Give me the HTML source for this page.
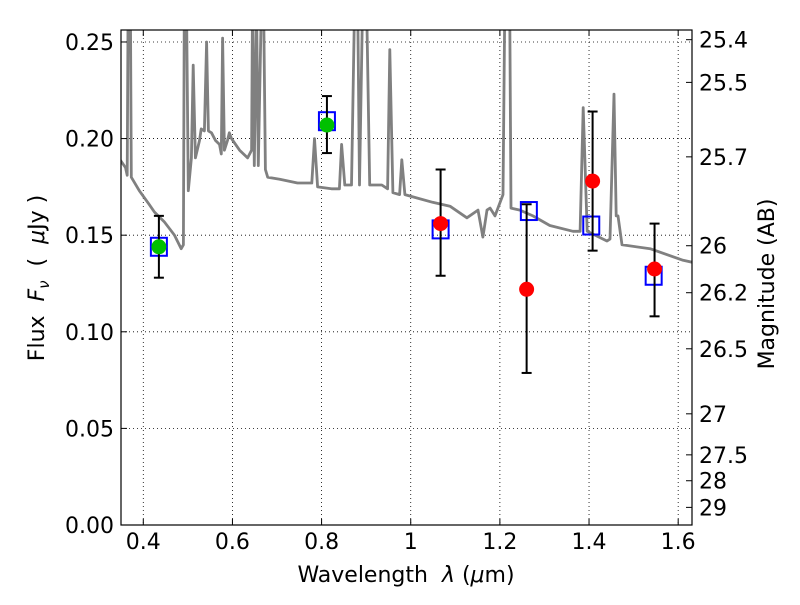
<!DOCTYPE html>
<html><head><meta charset="utf-8"><style>
body{margin:0;background:#fff;}
svg text{font-family:"DejaVu Sans","Liberation Sans",sans-serif;fill:#000;}
</style></head><body>
<svg id="chart" width="800" height="600">
<g id="grid"></g>
<g id="spec"></g>
<g id="marks"></g>
<rect x="121" y="30" width="571" height="495" fill="none" stroke="#000" stroke-width="1.2"/>
<g id="axes"></g>
<text x="406" y="582" font-size="22" text-anchor="middle">Wavelength&#160;&#160;<tspan font-style="italic">λ</tspan>&#160;(<tspan font-style="italic">μ</tspan>m)</text>
<text transform="translate(44,278) rotate(-90)" font-size="22" text-anchor="middle">Flux&#160;&#160;<tspan font-style="italic">F</tspan><tspan font-style="italic" font-size="15" dy="5">ν</tspan><tspan dy="-5">&#160;&#160;(&#160;&#160;</tspan><tspan font-style="italic">μ</tspan>Jy&#160;)</text>
<text transform="translate(774,284) rotate(-90)" font-size="22" text-anchor="middle">Magnitude (AB)</text>
</svg>
<script>
const specLam=[0.348,0.360,0.364,0.366,0.371,0.373,0.391,0.413,0.425,0.447,0.470,0.485,0.490,0.492,0.497,0.501,0.508,0.512,0.517,0.526,0.530,0.537,0.542,0.546,0.553,0.562,0.571,0.575,0.578,0.582,0.589,0.593,0.598,0.616,0.634,0.643,0.645,0.649,0.654,0.658,0.665,0.670,0.674,0.679,0.706,0.746,0.778,0.784,0.791,0.822,0.840,0.845,0.852,0.867,0.874,0.881,0.885,0.892,0.901,0.908,0.935,0.948,0.953,0.960,0.975,0.980,0.987,1.002,1.049,1.088,1.126,1.151,1.162,1.171,1.178,1.189,1.207,1.211,1.222,1.225,1.245,1.274,1.312,1.364,1.380,1.387,1.396,1.440,1.447,1.456,1.461,1.465,1.474,1.537,1.611,1.631];
const specFlux=[0.189,0.185,0.181,0.27,0.27,0.180,0.173,0.166,0.162,0.157,0.150,0.143,0.145,0.27,0.27,0.173,0.190,0.238,0.190,0.199,0.205,0.204,0.250,0.204,0.203,0.199,0.197,0.192,0.252,0.194,0.199,0.203,0.200,0.194,0.190,0.194,0.27,0.186,0.27,0.186,0.27,0.27,0.184,0.180,0.179,0.177,0.177,0.200,0.175,0.174,0.174,0.197,0.176,0.176,0.27,0.27,0.176,0.27,0.27,0.176,0.176,0.174,0.246,0.172,0.171,0.189,0.171,0.170,0.167,0.165,0.159,0.163,0.149,0.163,0.164,0.160,0.171,0.27,0.27,0.164,0.163,0.160,0.155,0.152,0.152,0.216,0.152,0.147,0.148,0.223,0.160,0.160,0.145,0.143,0.137,0.136];
const photLam=[0.435,0.812,1.067,1.26,1.408,1.547];
const photFlux=[0.144,0.207,0.156,0.122,0.178,0.1325];
const errHi=[0.160,0.222,0.184,0.166,0.214,0.156];
const errLo=[0.128,0.1925,0.129,0.0787,0.142,0.108];
const photColor=['#00c000','#00c000','red','red','red','red'];
const modelLam=[0.435,0.812,1.067,1.265,1.405,1.545];
const modelFlux=[0.144,0.209,0.153,0.1625,0.155,0.129];
const xTicks=[0.4,0.6,0.8,1.0,1.2,1.4,1.6];
const xTickLabels=['0.4','0.6','0.8','1','1.2','1.4','1.6'];
const yTicks=[0,0.05,0.10,0.15,0.20,0.25];
const yTickLabels=['0.00','0.05','0.10','0.15','0.20','0.25'];
const magTicks=[25.4,25.5,25.7,26,26.2,26.5,27,27.5,28,29];

const NS='http://www.w3.org/2000/svg';
const X0=121,X1=692,Y0=525,Y1=30,XMIN=0.35,XMAX=1.631,YMIN=0,YMAX=0.2562;
const xs=v=>X0+(v-XMIN)/(XMAX-XMIN)*(X1-X0);
const ys=v=>Y0-(v-YMIN)/(YMAX-YMIN)*(Y0-Y1);
function mk(tag,attrs,parent){const e=document.createElementNS(NS,tag);for(const k in attrs)e.setAttribute(k,attrs[k]);parent.appendChild(e);return e;}
const grid=document.getElementById('grid'),axes=document.getElementById('axes'),spec=document.getElementById('spec'),marks=document.getElementById('marks');
xTicks.forEach((t,i)=>{const x=xs(t);
 const g=mk('line',{x1:x,x2:x,y1:Y1,y2:Y0,stroke:'#000','stroke-width':0.8,'stroke-dasharray':'1,3'},grid);
 
 
 mk('line',{x1:x,x2:x,y1:Y0,y2:Y0-6,stroke:'#000'},axes);
 mk('line',{x1:x,x2:x,y1:Y1,y2:Y1+6,stroke:'#000'},axes);
 const tx=mk('text',{x:x,y:Y0+24,'font-size':22,'text-anchor':'middle'},axes);tx.textContent=xTickLabels[i];
 
 
});
yTicks.forEach((t,i)=>{const y=ys(t);
 const g=mk('line',{x1:X0,x2:X1,y1:y,y2:y,stroke:'#000','stroke-width':0.8,'stroke-dasharray':'1,3'},grid);
 
 
 mk('line',{x1:X0,x2:X0+6,y1:y,y2:y,stroke:'#000'},axes);
 const tx=mk('text',{x:X0-7,y:y+8,'font-size':22,'text-anchor':'end'},axes);tx.textContent=yTickLabels[i];
 
 
});
magTicks.forEach(m=>{const f=Math.pow(10,(23.9-m)/2.5);const y=ys(f);
 mk('line',{x1:X1-6,x2:X1,y1:y,y2:y,stroke:'#000'},axes);
 const tx=mk('text',{x:X1+7,y:y+8,'font-size':22},axes);tx.textContent=String(m);
 
 
});
const clip=mk('clipPath',{id:'pc'},document.getElementById('chart'));
mk('rect',{x:X0,y:Y1,width:X1-X0,height:Y0-Y1},clip);
const pts=specLam.map((l,i)=>xs(l).toFixed(1)+','+ys(specFlux[i]).toFixed(1)).join(' ');
const pl=mk('polyline',{points:pts,fill:'none',stroke:'#808080','stroke-width':2.8,'clip-path':'url(#pc)','stroke-linejoin':'round'},spec);


modelLam.forEach((l,i)=>{const x=xs(l),y=ys(modelFlux[i]);
 const r=mk('rect',{x:x-8,y:y-9,width:16,height:18,fill:'none',stroke:'#0000ff','stroke-width':2},marks);
 
 
});
photLam.forEach((l,i)=>{const x=xs(l);
 const e=mk('g',{},marks);
 
 
 mk('line',{x1:x,x2:x,y1:ys(errHi[i]),y2:ys(errLo[i]),stroke:'#000','stroke-width':2},e);
 mk('line',{x1:x-5,x2:x+5,y1:ys(errHi[i]),y2:ys(errHi[i]),stroke:'#000','stroke-width':2},e);
 mk('line',{x1:x-5,x2:x+5,y1:ys(errLo[i]),y2:ys(errLo[i]),stroke:'#000','stroke-width':2},e);
 const c=mk('circle',{cx:x,cy:ys(photFlux[i]),r:7.5,fill:photColor[i]},marks);
 
 
});
</script>
</body></html>
